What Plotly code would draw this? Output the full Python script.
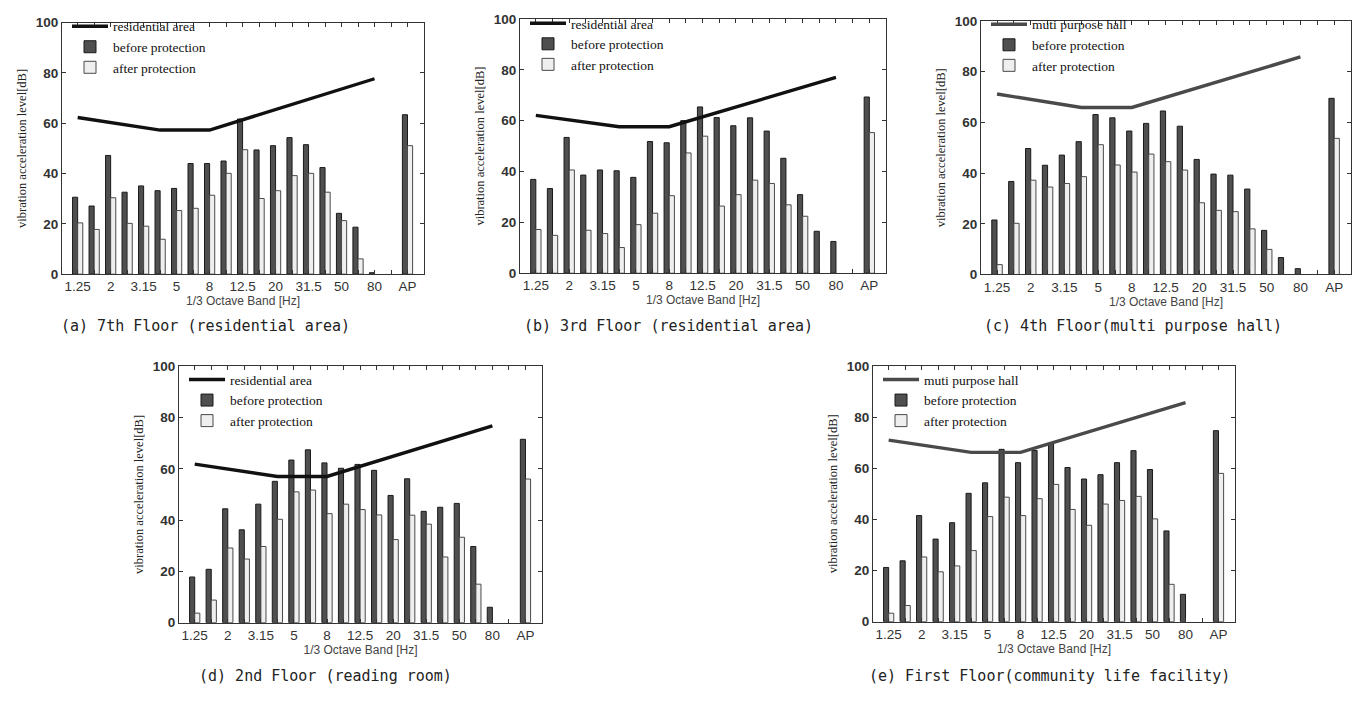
import plotly.graph_objects as go

W, H = 1361, 706

bands = ["1.25", "1.6", "2", "2.5", "3.15", "4", "5", "6.3", "8", "10", "12.5", "16",
         "20", "25", "31.5", "40", "50", "63", "80", "", "AP"]
tick_labels = ["1.25", "", "2", "", "3.15", "", "5", "", "8", "", "12.5", "", "20", "",
               "31.5", "", "50", "", "80", "", "AP"]

# criterion line break points
line_bands = ["1.25", "4", "8", "80"]

a_before = [30.6, 27.1, 47.2, 32.6, 35.1, 33.2, 34.1, 44.0, 44.0, 45.0, 61.7, 49.4, 51.1, 54.3, 51.5, 42.4, 24.2, 18.7, 0.6, None, 63.4]
a_after = [20.4, 17.8, 30.4, 20.2, 19.1, 13.9, 25.3, 26.2, 31.4, 40.1, 49.5, 30.1, 33.2, 39.2, 40.1, 32.6, 21.3, 6.1, None, None, 51.1]
a_line = [62.3, 57.3, 57.3, 77.7]

b_before = [36.9, 33.3, 53.4, 38.6, 40.6, 40.3, 37.7, 51.8, 51.3, 60.0, 65.4, 61.2, 58.0, 61.1, 55.9, 45.2, 30.9, 16.5, 12.5, None, 69.3]
b_after = [17.2, 14.9, 40.6, 16.9, 15.6, 10.1, 19.1, 23.6, 30.5, 47.3, 53.9, 26.4, 30.9, 36.6, 35.3, 26.9, 22.4, None, None, None, 55.3]
b_line = [62.1, 57.6, 57.6, 77.0]

c_before = [21.5, 36.7, 49.7, 43.1, 47.1, 52.4, 63.1, 61.8, 56.6, 59.6, 64.5, 58.5, 45.4, 39.6, 39.2, 33.7, 17.4, 6.7, 2.3, None, 69.5]
c_after = [3.9, 20.2, 37.2, 34.5, 35.9, 38.6, 51.2, 43.2, 40.4, 47.5, 44.5, 41.2, 28.3, 25.3, 24.8, 18.0, 9.9, None, None, None, 53.7]
c_line = [71.2, 65.9, 65.9, 85.8]

d_before = [17.8, 20.8, 44.4, 36.2, 46.2, 55.1, 63.4, 67.4, 62.3, 60.2, 61.7, 59.4, 49.6, 56.1, 43.4, 45.0, 46.5, 29.7, 6.0, None, 71.5]
d_after = [3.7, 8.8, 29.1, 24.8, 29.7, 40.3, 51.0, 51.7, 42.5, 46.2, 44.1, 42.0, 32.4, 41.9, 38.4, 25.6, 33.3, 15.0, None, None, 56.0]
d_line = [61.8, 57.0, 57.0, 76.7]

e_before = [21.2, 23.8, 41.5, 32.3, 38.7, 50.2, 54.3, 67.4, 62.2, 67.0, 69.7, 60.3, 55.8, 57.5, 62.2, 66.9, 59.5, 35.5, 10.7, None, 74.7]
e_after = [3.3, 6.3, 25.3, 19.5, 21.8, 27.8, 41.1, 48.7, 41.5, 48.1, 53.7, 43.9, 37.7, 46.0, 47.4, 49.0, 40.2, 14.6, None, None, 58.0]
e_line = [71.0, 66.2, 66.2, 85.7]

panels = [
    dict(before=a_before, after=a_after, line=a_line, line_name="residential area",
         caption="(a) 7th Floor (residential area)", px=(62, 424), py=(16, 273),
         lcolor="#111111", cap=(59, 326), leg_top=4),
    dict(before=b_before, after=b_after, line=b_line, line_name="residential area",
         caption="(b) 3rd Floor (residential area)", px=(520, 886), py=(12.2, 272),
         lcolor="#111111", cap=(522, 326), leg_top=1),
    dict(before=c_before, after=c_after, line=c_line, line_name="muti purpose hall",
         caption="(c) 4th Floor(multi purpose hall)", px=(981, 1351), py=(14.3, 273.3),
         lcolor="#4a4a4a", cap=(982, 326), leg_top=2),
    dict(before=d_before, after=d_after, line=d_line, line_name="residential area",
         caption="(d) 2nd Floor (reading room)", px=(179, 542), py=(367, 629),
         lcolor="#111111", cap=(197, 684), leg_top=365),
    dict(before=e_before, after=e_after, line=e_line, line_name="muti purpose hall",
         caption="(e) First Floor(community life facility)", px=(873, 1235), py=(366.8, 628),
         lcolor="#4a4a4a", cap=(867, 684), leg_top=365),
]

xpos = list(range(len(bands)))
line_x = [bands.index(b) for b in line_bands]

fig = go.Figure()
layout = dict(
    width=W, height=H, margin=dict(l=0, r=0, t=0, b=0),
    paper_bgcolor="white", plot_bgcolor="white",
    barmode="group", bargap=0.38, bargroupgap=0.0,
    showlegend=True,
)
annotations = []

for i, p in enumerate(panels, start=1):
    xa = "x" if i == 1 else f"x{i}"
    ya = "y" if i == 1 else f"y{i}"
    lg = "legend" if i == 1 else f"legend{i}"
    fig.add_trace(go.Scatter(x=line_x, y=p["line"], mode="lines", name=p["line_name"],
                             line=dict(color=p["lcolor"], width=3.4), xaxis=xa, yaxis=ya,
                             legend=lg, legendrank=1))
    fig.add_trace(go.Bar(x=xpos, y=p["before"], name="before protection",
                         marker=dict(color="#4f4f4f", line=dict(color="#1a1a1a", width=1)),
                         xaxis=xa, yaxis=ya, legend=lg, legendrank=2))
    fig.add_trace(go.Bar(x=xpos, y=p["after"], name="after protection",
                         marker=dict(color="#efefef", line=dict(color="#4a4a4a", width=1)),
                         xaxis=xa, yaxis=ya, legend=lg, legendrank=3))

    x0, x1 = p["px"]
    y0, y1 = p["py"]
    xd = [x0 / W, x1 / W]
    yd = [1 - y1 / H, 1 - y0 / H]
    xkey = "xaxis" if i == 1 else f"xaxis{i}"
    ykey = "yaxis" if i == 1 else f"yaxis{i}"
    layout[xkey] = dict(
        domain=xd, anchor=ya, range=[-0.95, 21.0],
        tickmode="array", tickvals=xpos, ticktext=tick_labels,
        ticks="inside", ticklen=4, tickcolor="#333", showline=True, linecolor="#333",
        linewidth=1, mirror="ticks", showgrid=False, zeroline=False,
        tickfont=dict(family="Liberation Sans, Arial", size=13.5, color="#333"),
        title=dict(text="1/3 Octave Band [Hz]", standoff=3,
                   font=dict(family="Liberation Sans, Arial", size=12, color="#444")),
    )
    layout[ykey] = dict(
        domain=yd, anchor=xa, range=[0, 100], tickvals=[0, 20, 40, 60, 80, 100],
        ticks="inside", ticklen=4, tickcolor="#333", showline=True, linecolor="#333",
        linewidth=1, mirror="ticks", showgrid=False, zeroline=False,
        tickfont=dict(family="Liberation Sans, Arial", size=13.5, color="#333", weight="bold"),
        title=dict(text="vibration acceleration level[dB]", standoff=6,
                   font=dict(family="Liberation Serif, Times New Roman", size=12.5, color="#222")),
    )
    layout[lg] = dict(
        x=(x0 + 5) / W, y=1 - p["leg_top"] / H, xanchor="left", yanchor="top",
        bgcolor="rgba(0,0,0,0)", borderwidth=0, itemwidth=36,
        font=dict(family="Liberation Serif, Times New Roman", size=13.5, color="#111"),
        traceorder="normal", tracegroupgap=0,
    )
    cx, cy = p["cap"]
    annotations.append(dict(
        text=p["caption"], x=cx / W, y=1 - cy / H, xref="paper", yref="paper",
        xanchor="left", yanchor="middle", showarrow=False,
        font=dict(family="DejaVu Sans Mono", size=15, color="#222"),
    ))

layout["annotations"] = annotations
fig.update_layout(**layout)

fig.write_html("out.html", config={"displayModeBar": False},
               post_script="document.body.style.margin='0';document.body.style.overflow='hidden';")
